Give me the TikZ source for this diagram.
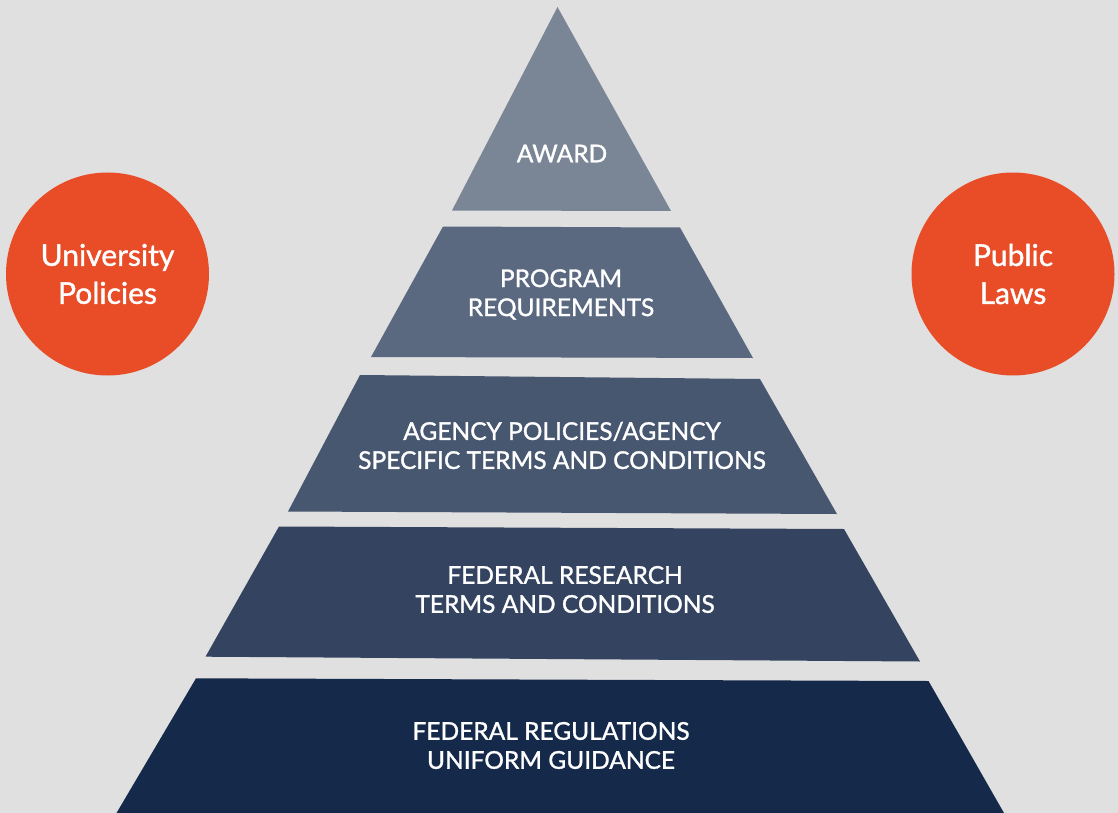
\documentclass[tikz,border=0pt]{standalone}
\usepackage{fontspec}
\setmainfont{Lato}
\newfontfamily\tierfont{Lato}[FakeBold=1.2]

\definecolor{bggray}{RGB}{224,224,224}
\definecolor{tierA}{RGB}{122,133,150}
\definecolor{tierB}{RGB}{90,104,128}
\definecolor{tierC}{RGB}{72,87,112}
\definecolor{tierD}{RGB}{52,68,96}
\definecolor{tierE}{RGB}{21,41,74}
\definecolor{lawred}{RGB}{232,77,40}

\tikzset{every picture/.style={line width=0.45pt}}

\begin{document}
\begin{tikzpicture}[x=1pt,y=1pt,yscale=-1,xscale=1,
  tiertext/.style={text=white, align=center, inner sep=0.75pt, font=\tierfont\fontsize{24.5}{29}\selectfont},
  bubble/.style={circle, fill=lawred, minimum size=203pt, inner sep=0pt, text=white, align=center, font=\tierfont\fontsize{30}{38}\selectfont}]
%set diagram frame, 1118 wide and 813 high
\fill [bggray] (0,0) rectangle (1118,813);
\useasboundingbox (0,0) rectangle (1118,813);

%Shape: Triangle
\fill [tierA] (557.5,7) -- (671,211) -- (452,210.5) -- cycle ;
%Shape: Trapezoid
\fill [tierB] (443,226.5) -- (680,227.5) -- (753,358) -- (371,357) -- cycle ;
%Shape: Trapezoid
\fill [tierC] (360,375) -- (760,379) -- (837,514) -- (288,511.5) -- cycle ;
%Shape: Trapezoid
\fill [tierD] (279,526.5) -- (844,529) -- (920,661.5) -- (205.5,656.7) -- cycle ;
%Shape: Trapezoid
\fill [tierE] (196,678.3) -- (928.5,681) -- (1004,813) -- (116.5,813) -- cycle ;

%Shape: Circle
\node [bubble] (univ) at (107.5,274) {University\\Policies};
%Shape: Circle
\node [bubble] (laws) at (1013,274) {Public\\Laws};

% Text Node
\node [tiertext] (award) at (562,153.5) {AWARD};
% Text Node
\node [tiertext] (program) at (561,294.5) {PROGRAM\\REQUIREMENTS};
% Text Node
\node [tiertext] (agency) at (562,445.5) {AGENCY POLICIES/AGENCY\\SPECIFIC TERMS AND CONDITIONS};
% Text Node
\node [tiertext] (research) at (565,589.5) {FEDERAL RESEARCH\\TERMS AND CONDITIONS};
% Text Node
\node [tiertext] (regs) at (551,745.5) {FEDERAL REGULATIONS\\UNIFORM GUIDANCE};

\end{tikzpicture}
\end{document}
